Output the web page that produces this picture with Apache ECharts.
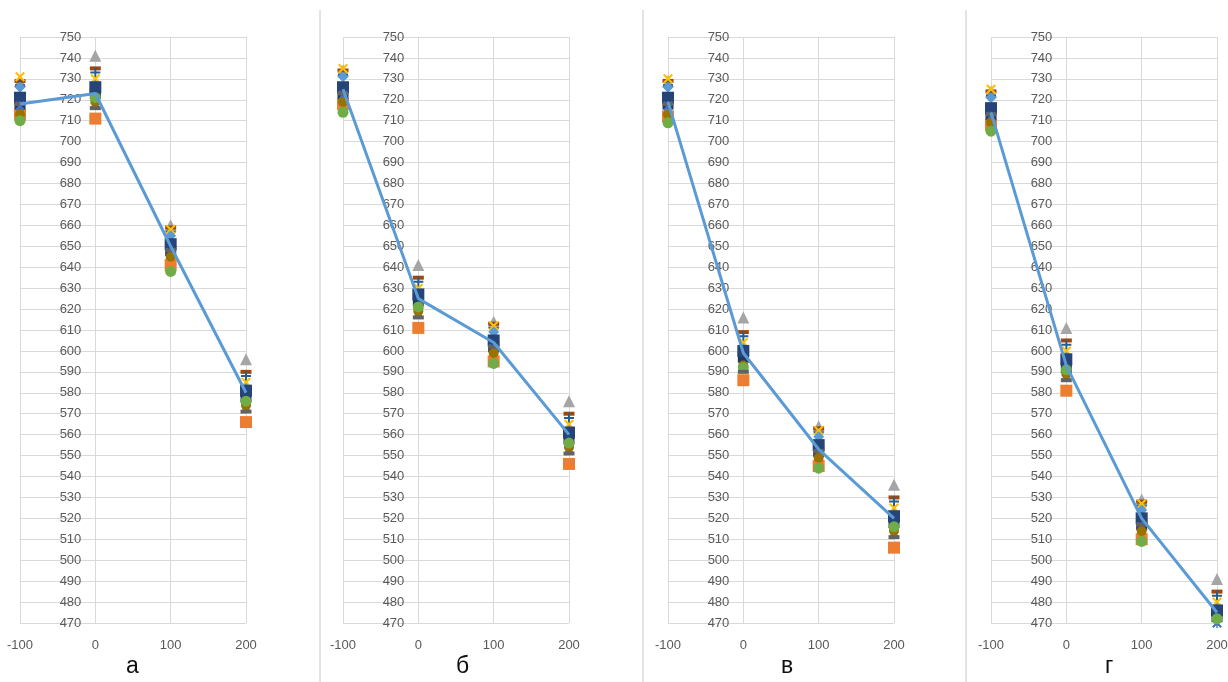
<!DOCTYPE html>
<html><head><meta charset="utf-8">
<script src="https://cdn.jsdelivr.net/npm/echarts@6/dist/echarts.min.js"></script>
<style>html,body{margin:0;padding:0;background:#fff}#c{width:1228px;height:682px}</style>
</head><body><div id="c"></div>
<script>
// x positions and panel captions
const xValues = [-100, 0, 100, 200];
const panelLabels = ['а', 'б', 'в', 'г'];
const yMin = 470, yMax = 750, yStep = 10;
const xMin = -100, xMax = 200, xStep = 100;

// each array: one row per panel (а, б, в, г), values at x = -100, 0, 100, 200
const meanLine    = [[718,723,650,580],[725,625,604,560],[719,599,553,520],[714,593,520,475]];
const orangeSq    = [[713,711,641,566],[718,611,595,546],[712,586,545,506],[708,581,510,461]];
const grayTri     = [[729,741,660,596],[734,641,614,576],[729,616,564,536],[724,611,529,491]];
const redDash     = [[729,735,659,590],[734,635,613,570],[729,609,563,530],[724,605,528,485]];
const bluePlus    = [[727,733,657,588],[732,633,611,568],[727,607,561,528],[722,603,526,483]];
const yellowX     = [[731,730,658,585],[735,630,612,565],[730,604,562,525],[725,600,527,480]];
const blueDiamond = [[726,727,655,582],[731,627,609,562],[726,601,559,522],[721,597,524,477]];
const blueStar    = [[717,718,647,573],[722,618,601,553],[717,592,551,513],[712,588,516,470]];
const brownCircle = [[713,719,645,574],[719,619,599,554],[713,593,549,514],[709,589,514,469]];
const greenCircle = [[710,721,638,576],[714,621,594,556],[709,592,544,516],[705,591,509,472]];
const grayDash    = [[718,716,648,571],[723,616,602,551],[718,590,552,511],[713,586,517,466]];
const navySq2     = [[718,723,648,578],[723,624,602,558],[718,597,552,518],[713,592,517,473]];
const navySq      = [[721,726,651,581],[726,627,605,561],[721,600,555,521],[716,596,520,476]];

const P = {
  x: 'path://M1.5,0 L5,3.5 L8.5,0 L10,1.5 L6.5,5 L10,8.5 L8.5,10 L5,6.5 L1.5,10 L0,8.5 L3.5,5 L0,1.5 Z',
  plus: 'path://M4,0 H6 V4 H10 V6 H6 V10 H4 V6 H0 V4 H4 Z',
  dash: 'path://M0,0 H10 V3 H0 Z',
  star: 'path://M1.5,0 L5,3.5 L8.5,0 L10,1.5 L6.5,5 L10,8.5 L8.5,10 L5,6.5 L1.5,10 L0,8.5 L3.5,5 L0,1.5 Z M4.3,0 H5.7 V10 H4.3 Z'
};

const markerDefs = [
  {data: orangeSq, symbol: 'rect', size: 12, color: '#ED7D31'},
  {data: grayTri, symbol: 'triangle', size: 12, color: '#A5A5A5'},
  {data: redDash, symbol: P.dash, size: [11, 4], color: '#9E480E'},
  {data: bluePlus, symbol: P.plus, size: 10, color: '#255E91'},
  {data: yellowX, symbol: P.x, size: 10, color: '#FFC000'},
  {data: blueDiamond, symbol: 'diamond', size: 11, color: '#5B9BD5'},
  {data: navySq2, symbol: 'rect', size: 11, color: '#203864'},
  {data: navySq, symbol: 'rect', size: 12, color: '#264478'},
  {data: blueStar, symbol: P.star, size: 10, color: '#4472C4'},
  {data: brownCircle, symbol: 'circle', size: 10, color: '#997300'},
  {data: greenCircle, symbol: 'circle', size: 11, color: '#70AD47'},
  {data: grayDash, symbol: P.dash, size: [11, 4], color: '#636363'}
];

const gridLeft = [20, 343, 668, 991];
const gridWidth = 226;
const gridTop = 37, gridBottomY = 623;
const letterX = [133, 463, 788, 1112];
const dividerX = [320, 643, 966];

const grids = [], xAxes = [], yAxes = [], series = [], graphics = [];
const font = 'Liberation Sans';
for (let p = 0; p < 4; p++) {
  grids.push({left: gridLeft[p], top: gridTop, width: gridWidth, height: gridBottomY - gridTop,
    containLabel: false, outerBoundsMode: 'none'});
  xAxes.push({
    type: 'value', gridIndex: p, min: xMin, max: xMax, interval: xStep,
    axisLine: {show: false, onZero: false}, axisTick: {show: false},
    splitLine: {show: true, lineStyle: {color: '#d9d9d9', width: 1}},
    axisLabel: {color: '#595959', fontSize: 13, fontFamily: font, margin: 16}
  });
  // labels sit just left of the x = 0 gridline (Excel axis crossing at 0)
  const zeroOffset = gridWidth * (0 - xMin) / (xMax - xMin);
  yAxes.push({
    type: 'value', gridIndex: p, min: yMin, max: yMax, interval: yStep,
    axisLine: {show: false, onZero: false}, axisTick: {show: false},
    splitLine: {show: true, lineStyle: {color: '#d9d9d9', width: 1}},
    axisLabel: {color: '#595959', fontSize: 13, fontFamily: font, margin: -(zeroOffset - 14), align: 'right'}
  });
  markerDefs.forEach(m => {
    series.push({
      type: 'scatter', xAxisIndex: p, yAxisIndex: p,
      symbol: m.symbol, symbolSize: m.size, clip: true,
      itemStyle: {color: m.color, opacity: 1},
      data: xValues.map((x, i) => [x, m.data[p][i]]),
      silent: true
    });
  });
  series.push({
    type: 'line', xAxisIndex: p, yAxisIndex: p, showSymbol: false, symbol: 'none',
    lineStyle: {color: '#5B9BD5', width: 3}, z: 5,
    data: xValues.map((x, i) => [x, meanLine[p][i]]), silent: true
  });
  graphics.push({
    type: 'text', left: letterX[p] - 7, top: 655,
    style: {text: panelLabels[p], font: '23px "Liberation Sans"', fill: '#111'}
  });
}
dividerX.forEach(x => graphics.push({
  type: 'line', shape: {x1: x, y1: 10, x2: x, y2: 682},
  style: {stroke: '#c8c8c8', lineWidth: 1}
}));

const chart = echarts.init(document.getElementById('c'), null, {renderer: 'canvas'});
chart.setOption({
  animation: false,
  backgroundColor: '#fff',
  grid: grids, xAxis: xAxes, yAxis: yAxes, series: series, graphic: graphics
});
</script>
</body></html>
